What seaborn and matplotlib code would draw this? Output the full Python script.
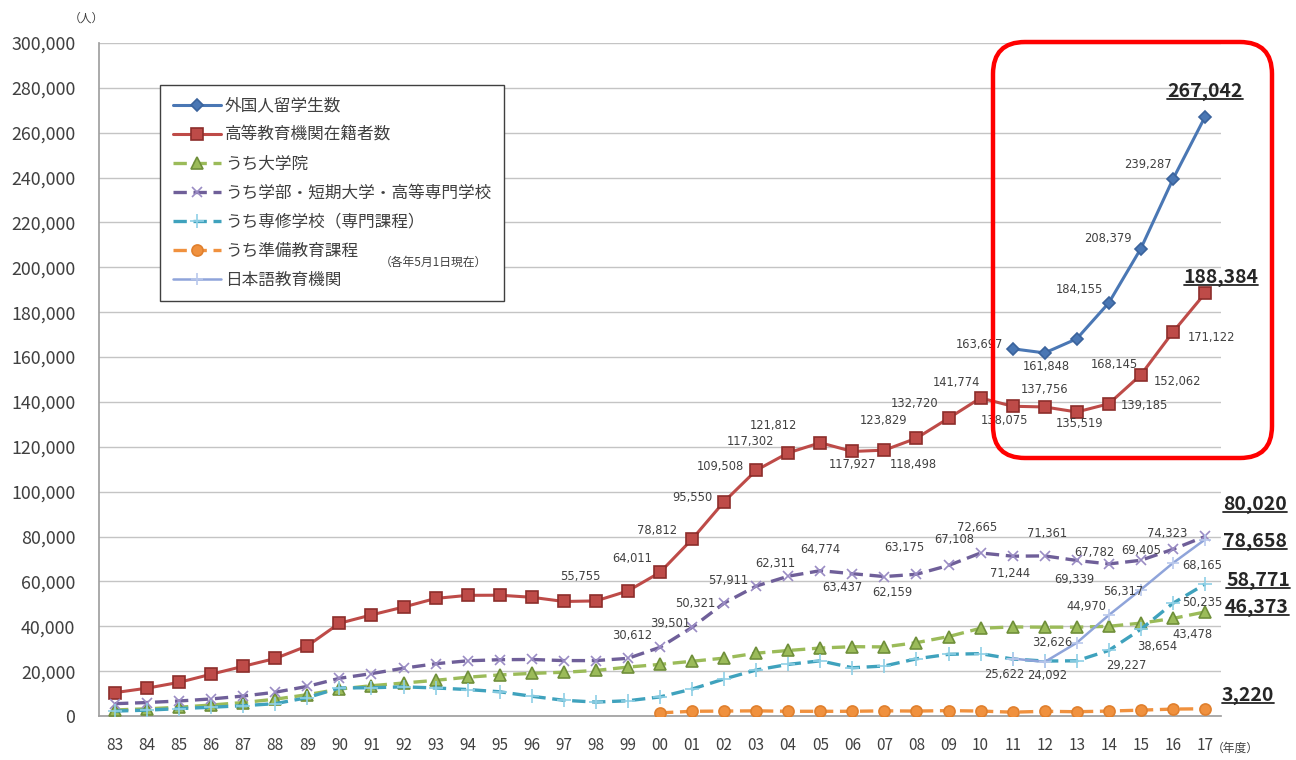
import matplotlib
matplotlib.use("Agg")
import matplotlib.pyplot as plt
from matplotlib.patches import FancyBboxPatch
from matplotlib.lines import Line2D
from matplotlib.ticker import FuncFormatter, FixedLocator
import seaborn as sns

# ── data (各年5月1日現在) ─────────────────────────────────────────────────────
YEAR_LABELS = ["83", "84", "85", "86", "87", "88", "89", "90", "91", "92",
               "93", "94", "95", "96", "97", "98", "99", "00", "01", "02",
               "03", "04", "05", "06", "07", "08", "09", "10", "11", "12",
               "13", "14", "15", "16", "17"]

# 外国人留学生数 (2011-)
foreign_total = [163697, 161848, 168145, 184155, 208379, 239287, 267042]
# 高等教育機関在籍者数 (1983-)
higher_ed = [10428, 12410, 15009, 18631, 22154, 25643, 31251, 41347, 45066,
             48561, 52405, 53787, 53847, 52921, 51047, 51298, 55755, 64011,
             78812, 95550, 109508, 117302, 121812, 117927, 118498, 123829,
             132720, 141774, 138075, 137756, 135519, 139185, 152062, 171122,
             188384]
# うち大学院 (1983-)
graduate = [2700, 3200, 3900, 4900, 6000, 7500, 9500, 12000, 13500, 14700,
            15900, 17300, 18300, 19000, 19500, 20300, 21800, 23000, 24400,
            25800, 28000, 29200, 30300, 30900, 30800, 32700, 35400, 39100,
            39700, 39600, 39600, 39979, 41396, 43478, 46373]
# うち学部・短期大学・高等専門学校 (1983-)
undergrad = [5500, 6000, 6700, 7600, 8900, 10600, 13200, 16800, 18900, 21300,
             23300, 24600, 25100, 25200, 24700, 24700, 25700, 30612, 39501,
             50321, 57911, 62311, 64774, 63437, 62159, 63175, 67108, 72665,
             71244, 71361, 69339, 67782, 69405, 74323, 80020]
# うち専修学校（専門課程） (1983-)
vocational = [2200, 2600, 3300, 3900, 4600, 5500, 8200, 12500, 12600, 13000,
              12500, 11800, 10800, 8800, 7000, 6200, 6800, 8500, 12000, 16500,
              20500, 23000, 24600, 21500, 22300, 25500, 27500, 27800, 25400,
              24500, 24600, 29227, 38654, 50235, 58771]
# うち準備教育課程 (2000-)
prep = [1400, 2100, 2200, 2300, 2100, 2100, 2100, 2300, 2200, 2400, 2200,
        1700, 2100, 1900, 2197, 2607, 3086, 3220]
# 日本語教育機関 (2011-)
japanese_lang = [25622, 24092, 32626, 44970, 56317, 68165, 78658]

SERIES = [
    # key, label, values, first year index
    ("foreign", "外国人留学生数", foreign_total, 28),
    ("higher", "高等教育機関在籍者数", higher_ed, 0),
    ("grad", "うち大学院", graduate, 0),
    ("under", "うち学部・短期大学・高等専門学校", undergrad, 0),
    ("voc", "うち専修学校（専門課程）", vocational, 0),
    ("prep", "うち準備教育課程", prep, 17),
    ("jlang", "日本語教育機関", japanese_lang, 28),
]

STYLE = {
    "foreign": dict(color="#4a77b4", marker="D", ms=6, ls="-", lw=2.2, mec="#3a639c"),
    "higher":  dict(color="#be4b48", marker="s", ms=8.5, ls="-", lw=2.2, mec="#8c2d2b"),
    "grad":    dict(color="#9bbb59", marker="^", ms=8.5, ls=(0, (4, 2)), lw=2.4, mec="#6f8f3a"),
    "under":   dict(color="#6f5f99", marker="x", ms=7, ls=(0, (4, 2)), lw=2.4, mec="#9a8cc4"),
    "voc":     dict(color="#3fa2bd", marker="+", ms=10, ls=(0, (4, 2)), lw=2.4, mec="#8fd0e6"),
    "prep":    dict(color="#f0913e", marker="o", ms=8, ls=(0, (4, 2)), lw=2.4, mec="#e0802e"),
    "jlang":   dict(color="#8fa4da", marker="+", ms=8, ls="-", lw=1.8, mec="#b9c8ec"),
}

# data-label offsets in pixels (dx, dy) by year index
LABEL_POS = {
    "higher": {16: (-48, 14), 17: (-28, 14), 18: (-35, 9), 19: (-32, 4),
               20: (-36, 4), 21: (-38, 11), 22: (-47, 17), 23: (0, -13),
               24: (29, -14), 25: (-33, 18), 26: (-34, 15), 27: (-24, 15),
               28: (-8, -14), 29: (0, 17), 30: (3, -12), 31: (36, -2),
               32: (37, -7), 33: (39, -5)},
    "foreign": {28: (-33, 4), 29: (2, -14), 30: (38, -26), 31: (-29, 13),
                32: (-33, 10), 33: (-25, 15)},
    "under": {17: (-28, 12), 18: (-22, 4), 19: (-29, 0), 20: (-28, 6),
              21: (-13, 13), 22: (0, 21), 23: (-10, -14), 24: (8, -16),
              25: (-12, 27), 26: (6, 26), 27: (-3, 25), 28: (-3, -17),
              29: (2, 22), 30: (-2, -19), 31: (-14, 11), 32: (0, 10),
              33: (-6, 16)},
    "jlang": {28: (-8, -16), 29: (3, -14), 30: (-25, 0), 31: (-22, 9),
              32: (-18, -2), 33: (29, -2)},
    "voc": {31: (18, -15), 32: (16, -17), 33: (29, 1)},
    "grad": {33: (20, -16)},
}
# bold underlined labels for the latest year
FINAL_POS = {"foreign": (0, 25), "higher": (16, 16), "under": (50, 32),
             "jlang": (50, -2), "voc": (53, 4), "grad": (52, 4), "prep": (43, 13)}

sns.set_theme(style="white")
plt.rcParams["font.family"] = ["Noto Sans CJK JP", "DejaVu Sans"]

W, H = 1296, 760
fig = plt.figure(figsize=(W / 100, H / 100), dpi=100)
ax = fig.add_axes([99 / W, 44 / H, (1221 - 99) / W, 673 / H])

TXT = "#404040"
for key, label, values, start in SERIES:
    st = STYLE[key]
    xs = list(range(start, start + len(values)))
    sns.lineplot(x=xs, y=values, ax=ax, label=label, color=st["color"],
                 marker=st["marker"], markersize=st["ms"], linestyle=st["ls"],
                 linewidth=st["lw"], markeredgecolor=st["mec"],
                 markeredgewidth=1.2, zorder=3)
    for i, (dx, dy) in LABEL_POS.get(key, {}).items():
        v = values[i - start]
        ax.annotate(f"{v:,}", (i, v), xytext=(dx, dy), textcoords="offset pixels",
                    ha="center", va="center", fontsize=8.3, color=TXT,
                    family=["DejaVu Sans"], zorder=5)

finals = []
for key, label, values, start in SERIES:
    dx, dy = FINAL_POS[key]
    i = start + len(values) - 1
    t = ax.annotate(f"{values[-1]:,}", (i, values[-1]), xytext=(dx, dy),
                    textcoords="offset pixels", ha="center", va="center",
                    fontsize=14, fontweight="bold", color="#262626",
                    annotation_clip=False, zorder=6)
    finals.append(t)

# axes
ax.set_xlim(-0.5, 34.5)
ax.set_ylim(0, 300000)
ax.set_yticks(range(0, 300001, 20000))
ax.yaxis.set_major_formatter(FuncFormatter(lambda v, p: f"{int(v):,}"))
ax.set_xticks(range(len(YEAR_LABELS)))
ax.set_xticklabels(YEAR_LABELS)
ax.xaxis.set_minor_locator(FixedLocator([i - 0.5 for i in range(len(YEAR_LABELS) + 1)]))
ax.tick_params(axis="y", length=0, pad=17, labelsize=12.8, labelcolor=TXT)
ax.tick_params(axis="x", which="major", length=0, pad=15, labelsize=11, labelcolor=TXT)
ax.tick_params(axis="x", which="minor", length=4, color="#a0a0a0", direction="out")
ax.grid(True, axis="y", color="#c4c4c4", lw=1)
ax.set_axisbelow(True)
for s in ["top", "right"]:
    ax.spines[s].set_visible(False)
for s in ["left", "bottom"]:
    ax.spines[s].set_color("#a0a0a0")
ax.set_xlabel("")
ax.set_ylabel("")

leg = ax.legend(loc="upper left", bbox_to_anchor=(160 / W, 1 - 85 / H),
                bbox_transform=fig.transFigure, borderaxespad=0, fontsize=12,
                handlelength=2.9, handletextpad=0.25, labelspacing=0.72,
                borderpad=0.75, fancybox=False, framealpha=1)
leg.get_frame().set_edgecolor("#404040")
leg.get_frame().set_linewidth(1.0)
for txt in leg.get_texts():
    txt.set_color(TXT)

fig.text(433 / W, 1 - 262 / H, "（各年5月1日現在）", fontsize=8.5, color=TXT,
         ha="center", va="center", zorder=10)
fig.text(86 / W, 1 - 18 / H, "（人）", fontsize=8.5, color=TXT, ha="center", va="center")
fig.text(1235 / W, 1 - 748 / H, "（年度）", fontsize=8.5, color=TXT, ha="center", va="center")

# red highlight frame
frame = FancyBboxPatch((993, H - 458), 1272 - 993, 458 - 42,
                       boxstyle="round,pad=0,rounding_size=32",
                       transform=None, fill=False, edgecolor="#ff0000", lw=3.2)
fig.add_artist(frame)

# underline the bold labels
fig.canvas.draw()
rend = fig.canvas.get_renderer()
for t in finals:
    bb = t.get_window_extent(rend)
    fig.add_artist(Line2D([bb.x0, bb.x1], [bb.y0 + 2, bb.y0 + 2], transform=None,
                          color="#262626", lw=1.3))

fig.savefig("out.png", dpi=100)
